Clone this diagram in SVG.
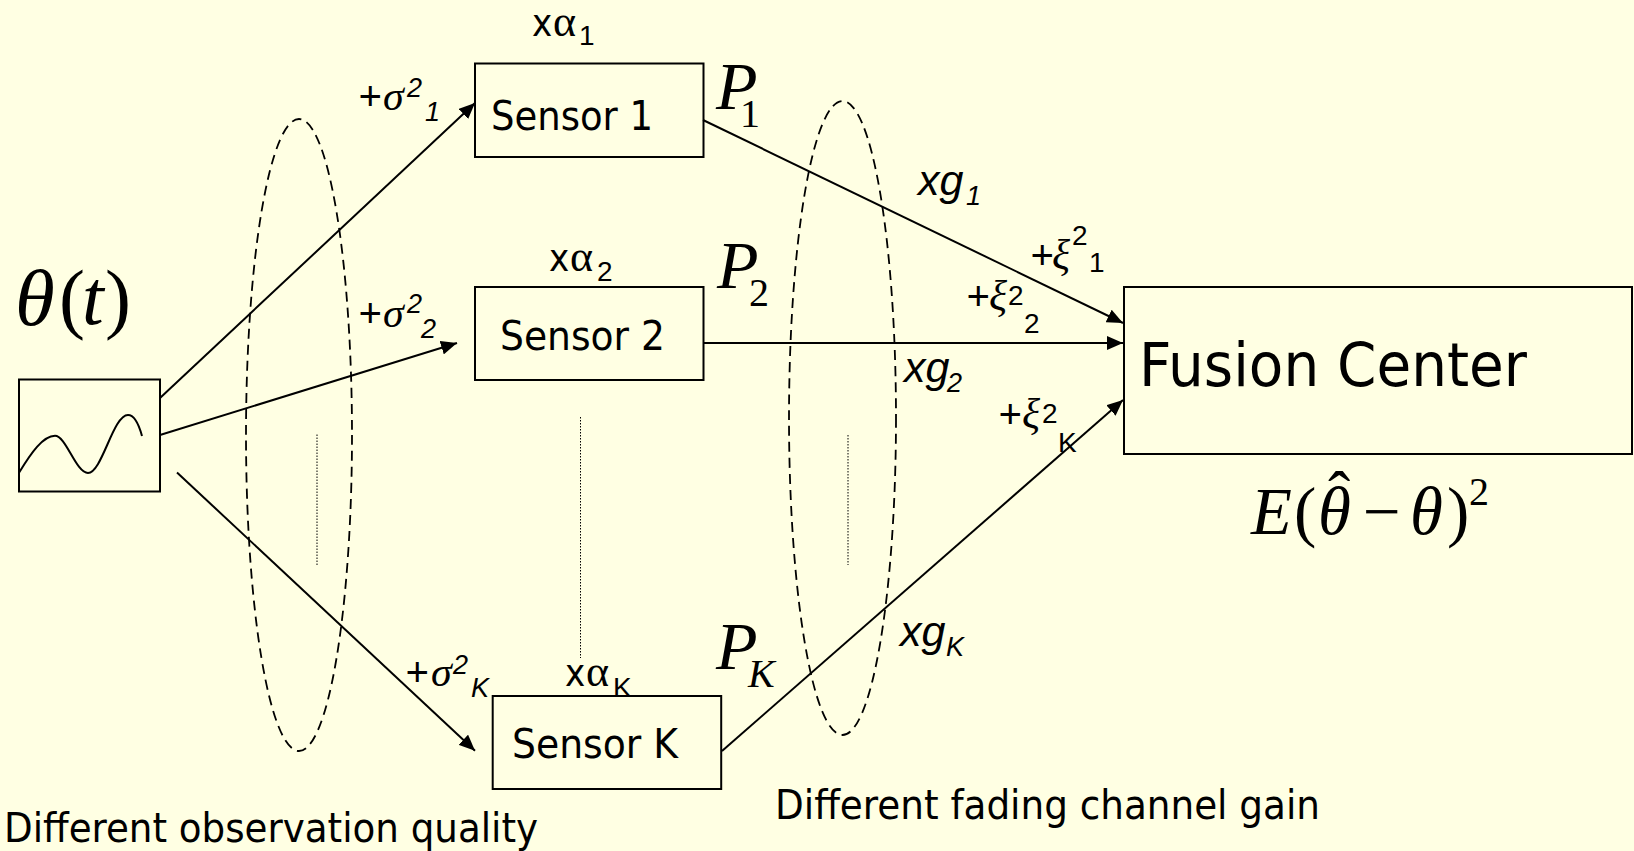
<svg xmlns="http://www.w3.org/2000/svg" width="1634" height="851" viewBox="0 0 1634 851">
<style>
.box{fill:none;stroke:#000;stroke-width:2}
.c{fill:none;stroke:#000;stroke-width:2;marker-end:url(#a)}
.n{fill:none;stroke:#000;stroke-width:2}
.e{fill:none;stroke:#000;stroke-width:1.8;stroke-dasharray:10 6}
.d{fill:none;stroke:#000;stroke-width:1;stroke-dasharray:1.5 1.5}
text{fill:#000;font-family:"DejaVu Sans","Noto Sans",sans-serif;font-stretch:condensed}
.s{font-size:40px}
.l{font-size:38px}
.i{font-family:"Liberation Serif",serif;font-style:italic;font-size:42px}
.pl{font-family:"Liberation Sans",sans-serif;font-style:italic;font-size:40px}
.ib{font-family:"Liberation Sans",sans-serif;font-style:italic;font-size:43px}
.is{font-family:"Liberation Sans",sans-serif;font-style:italic;font-size:27px}
.g{font-family:"Liberation Serif",serif;font-size:44px}
.t{font-family:"Liberation Sans",sans-serif;font-size:28px}
.P{font-family:"Liberation Serif",serif;font-style:italic;font-size:68px}
.Ps{font-family:"Liberation Serif",serif;font-size:40px}
.M{font-family:"Liberation Serif",serif;font-size:78px}
.T{font-family:"Liberation Serif",serif;font-style:italic;font-size:81px}
.E{font-family:"Liberation Serif",serif;font-size:67px}
</style>
<defs>
<marker id="a" viewBox="0 0 16 14" refX="16" refY="7" markerWidth="16" markerHeight="14" markerUnits="userSpaceOnUse" orient="auto"><path d="M0 0L16 7L0 14Z" fill="#000"/></marker>
</defs>
<rect width="1634" height="851" fill="#ffffe3"/>
<g id="connectors">
<path class="c" d="M160 398L475 103"/>
<path class="c" d="M160 435L457 343"/>
<path class="c" d="M177 472.500L475 750.700"/>
<path class="c" d="M703 120L1123 323"/>
<path class="c" d="M703 343L1123 343"/>
<path class="c" d="M722 751L1123 400"/>
</g>
<g id="groups">
<ellipse class="e" cx="299" cy="435" rx="53" ry="316"/>
<ellipse class="e" cx="842.500" cy="418" rx="53.500" ry="317"/>
<path class="d" d="M317 434.500V566"/>
<path class="d" d="M580.500 417V658"/>
<path class="d" d="M848 435V565"/>
</g>
<g id="source">
<rect class="box" x="19" y="379.500" width="141" height="112"/>
<path class="n" d="M19 472.700C31 453 43 435.700 55 435.700C66 435.700 76 473 88 473C102 473 113 415 128 415C135 415 139 425 142 436"/>
<text class="T" x="15" y="325">θ</text>
<text class="M" x="59" y="324">(</text>
<text class="M" font-style="italic" x="82" y="324">t</text>
<text class="M" x="105" y="324">)</text>
</g>
<g id="sensor1">
<rect class="box" x="475" y="63.500" width="228.500" height="93.500"/>
<text class="s" x="491" y="130" textLength="162" lengthAdjust="spacingAndGlyphs">Sensor 1</text>
<text class="l" x="532" y="36">x</text><text class="g" x="553" y="36">α</text><text class="t" x="579" y="45">1</text>
<text class="P" x="716" y="109">P</text><text class="Ps" x="740" y="127">1</text>
</g>
<g id="sensor2">
<rect class="box" x="475" y="287" width="228.500" height="93"/>
<text class="s" x="500" y="350" textLength="165" lengthAdjust="spacingAndGlyphs">Sensor 2</text>
<text class="l" x="549" y="271">x</text><text class="g" x="570" y="271">α</text><text class="t" x="597" y="281">2</text>
<text class="P" x="717" y="288">P</text><text class="Ps" x="749" y="306">2</text>
</g>
<g id="sensorK">
<rect class="box" x="492.700" y="696" width="228.500" height="93"/>
<text class="s" x="512" y="758" textLength="166" lengthAdjust="spacingAndGlyphs">Sensor K</text>
<text class="l" x="565" y="686">x</text><text class="g" x="586" y="686">α</text><text class="t" x="613" y="697">K</text>
<text class="P" x="716" y="669">P</text><text class="Ps" font-style="italic" x="748" y="687">K</text>
</g>
<g id="fusion">
<rect class="box" x="1124" y="287" width="508" height="167"/>
<text x="1139" y="386" font-size="60" textLength="388" lengthAdjust="spacingAndGlyphs">Fusion Center</text>
<text class="E" font-style="italic" x="1251" y="534">E</text>
<text class="E" x="1294" y="534">(</text>
<text class="E" font-style="italic" x="1318" y="534">θ</text>
<text class="E" x="1328" y="518">ˆ</text>
<text class="E" x="1363" y="534">−</text>
<text class="E" font-style="italic" x="1410" y="534">θ</text>
<text class="E" x="1447" y="534">)</text>
<text class="Ps" x="1469" y="505">2</text>
</g>
<g id="labels">
<text class="pl" x="358" y="110">+</text><text class="i" x="383" y="110">σ</text><text class="is" x="407" y="97">2</text><text class="is" x="425" y="121">1</text>
<text class="pl" x="358" y="327">+</text><text class="i" x="383" y="327">σ</text><text class="is" x="407" y="313">2</text><text class="is" x="421" y="338">2</text>
<text class="pl" x="405" y="686">+</text><text class="i" x="431" y="686">σ</text><text class="is" x="453" y="674">2</text><text class="is" x="471" y="697">K</text>
<text class="ib" x="918" y="195">xg</text><text class="is" x="966" y="205">1</text>
<text class="ib" x="904" y="382">xg</text><text class="is" x="947" y="392">2</text>
<text class="ib" x="900" y="646">xg</text><text class="is" x="946" y="656">K</text>
<text class="pl" x="1030" y="269">+</text><text class="i" x="1052" y="269">ξ</text><text class="t" x="1072" y="245">2</text><text class="t" x="1089" y="272">1</text>
<text class="pl" x="966" y="310">+</text><text class="i" x="989" y="310">ξ</text><text class="t" x="1008" y="305">2</text><text class="t" x="1024" y="333">2</text>
<text class="pl" x="998" y="428">+</text><text class="i" x="1022" y="428">ξ</text><text class="t" x="1042" y="423">2</text><text class="t" x="1058" y="452">K</text>
<text class="s" x="4" y="842" textLength="534" lengthAdjust="spacingAndGlyphs">Different observation quality</text>
<text class="s" x="775" y="819" textLength="545" lengthAdjust="spacingAndGlyphs">Different fading channel gain</text>
</g>
</svg>
